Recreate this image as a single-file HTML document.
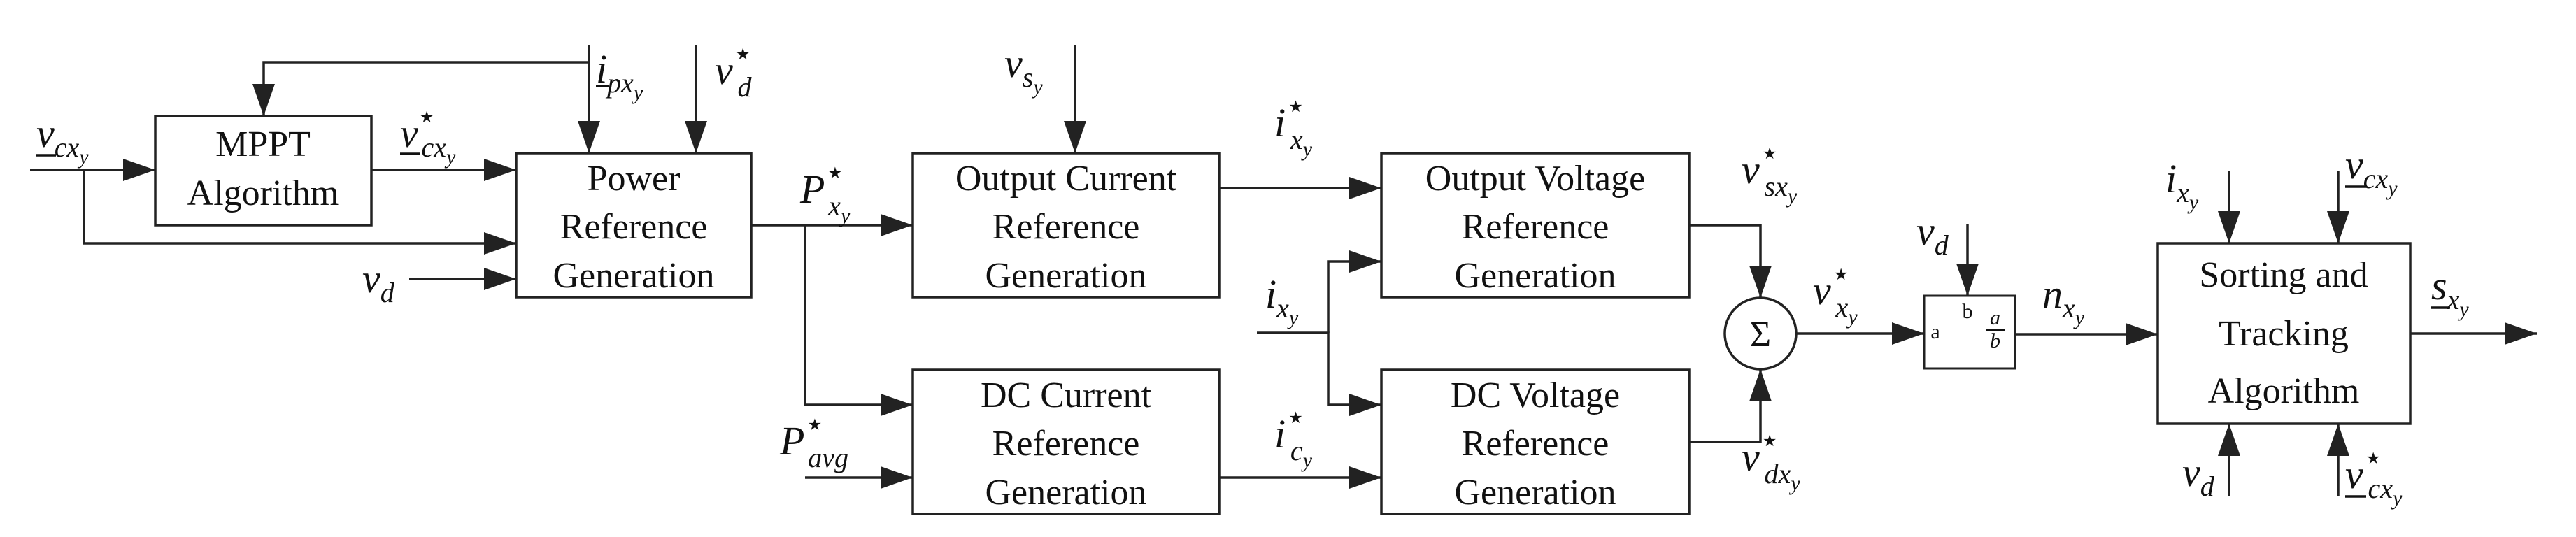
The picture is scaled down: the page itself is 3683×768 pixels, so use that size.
<!DOCTYPE html>
<html><head><meta charset="utf-8"><style>
html,body{margin:0;padding:0;background:#fff;}
svg{display:block;}
.b{font-family:"Liberation Serif","DejaVu Serif",serif;font-size:52px;fill:#111;}
.m{font-family:"Liberation Serif","DejaVu Serif",serif;font-style:italic;font-size:58px;fill:#111;}
.s{font-size:40px;}
.ss{font-size:30px;}
.st{font-style:normal;font-size:46px;}
</style></head><body>
<svg width="3683" height="768" viewBox="0 0 3683 768" xmlns="http://www.w3.org/2000/svg" font-family="Liberation Serif, DejaVu Serif, serif">
<defs>
<marker id="a" markerUnits="userSpaceOnUse" markerWidth="46" markerHeight="32" refX="46" refY="16" orient="auto">
<path d="M0,0 L46,16 L0,32 Z" fill="#222"/>
</marker>
</defs>
<g fill="none" stroke="#222" stroke-width="3.5">
<rect x="222" y="166" width="309" height="156"/>
<rect x="738" y="219" width="336" height="206"/>
<rect x="1305" y="219" width="438" height="206"/>
<rect x="1305" y="529" width="438" height="206"/>
<rect x="1975" y="219" width="440" height="206"/>
<rect x="1975" y="529" width="440" height="206"/>
<rect x="2751" y="423" width="130" height="104" stroke-width="3"/>
<rect x="3085" y="348" width="361" height="258"/>
<circle cx="2517" cy="477" r="51"/>
</g>
<g fill="none" stroke="#222" stroke-width="3.5" marker-end="url(#a)">
<path d="M43 243 H222"/>
<path d="M120 243 V348 H738"/>
<path d="M531 243 H738"/>
<path d="M585 399 H738"/>
<path d="M842 89 H377 V166"/>
<path d="M842 64 V219"/>
<path d="M995 64 V219"/>
<path d="M1074 322 H1305"/>
<path d="M1151 322 V579 H1305"/>
<path d="M1151 683 H1305"/>
<path d="M1537 64 V219"/>
<path d="M1743 269 H1975"/>
<path d="M1899 476 V374 H1975"/>
<path d="M1797 476 H1899 V579 H1975"/>
<path d="M1743 683 H1975"/>
<path d="M2415 322 H2517 V426"/>
<path d="M2415 632 H2517 V528"/>
<path d="M2568 477 H2751"/>
<path d="M2813 321 V423"/>
<path d="M2881 478 H3085"/>
<path d="M3187 245 V348"/>
<path d="M3343 245 V348"/>
<path d="M3187 710 V606"/>
<path d="M3343 710 V606"/>
<path d="M3446 477 H3627"/>
</g>
<g class="b" text-anchor="middle">
<text x="376" y="223">MPPT</text>
<text x="376" y="293">Algorithm</text>
<text x="906" y="272">Power</text>
<text x="906" y="341">Reference</text>
<text x="906" y="411">Generation</text>
<text x="1524" y="272">Output Current</text>
<text x="1524" y="341">Reference</text>
<text x="1524" y="411">Generation</text>
<text x="1524" y="582">DC Current</text>
<text x="1524" y="651">Reference</text>
<text x="1524" y="721">Generation</text>
<text x="2195" y="272">Output Voltage</text>
<text x="2195" y="341">Reference</text>
<text x="2195" y="411">Generation</text>
<text x="2195" y="582">DC Voltage</text>
<text x="2195" y="651">Reference</text>
<text x="2195" y="721">Generation</text>
<text x="3265" y="410">Sorting and</text>
<text x="3265" y="494">Tracking</text>
<text x="3265" y="576">Algorithm</text>
<text x="2517" y="495" style="font-size:52px">Σ</text>
<text x="2767" y="484" style="font-size:30px">a</text>
<text x="2813" y="455" style="font-size:30px">b</text>
</g>
<g fill="#111">
<text class="m" x="2845" y="464" style="font-size:30px">a</text>
<rect x="2840" y="470" width="26" height="3"/>
<text class="m" x="2845" y="497" style="font-size:30px">b</text>
</g>
<g stroke="#111" stroke-width="3.5">
<line x1="52" y1="222" x2="80" y2="222"/>
<line x1="572" y1="220" x2="600" y2="220"/>
<line x1="852" y1="123" x2="870" y2="123"/>
<line x1="3353" y1="267" x2="3383" y2="267"/>
<line x1="3353" y1="710" x2="3383" y2="710"/>
<line x1="3476" y1="440" x2="3503" y2="440"/>
</g>
<g class="m">
<text x="52" y="210">v<tspan class="s" dy="14">cx</tspan><tspan class="ss" dy="10">y</tspan></text>
<text x="572" y="210">v<tspan class="st" dx="-2" dy="-28">⋆</tspan><tspan class="s" dx="-22" dy="42">cx</tspan><tspan class="ss" dy="10">y</tspan></text>
<text x="852" y="118">i<tspan class="s" dy="14">px</tspan><tspan class="ss" dy="10">y</tspan></text>
<text x="1022" y="120">v<tspan class="st" dy="-28">⋆</tspan><tspan class="s" dx="-22" dy="46">d</tspan></text>
<text x="518" y="418">v<tspan class="s" dy="14">d</tspan></text>
<text x="1144" y="290">P<tspan class="st" dy="-28">⋆</tspan><tspan class="s" dx="-24" dy="46">x</tspan><tspan class="ss" dy="10">y</tspan></text>
<text x="1115" y="650">P<tspan class="st" dy="-28">⋆</tspan><tspan class="s" dx="-24" dy="46">avg</tspan></text>
<text x="1436" y="110">v<tspan class="s" dy="14">s</tspan><tspan class="ss" dy="10">y</tspan></text>
<text x="1822" y="195">i<tspan class="st" dy="-28">⋆</tspan><tspan class="s" dx="-22" dy="46">x</tspan><tspan class="ss" dy="10">y</tspan></text>
<text x="1809" y="440">i<tspan class="s" dy="14">x</tspan><tspan class="ss" dy="10">y</tspan></text>
<text x="1822" y="640">i<tspan class="st" dy="-28">⋆</tspan><tspan class="s" dx="-22" dy="46">c</tspan><tspan class="ss" dy="10">y</tspan></text>
<text x="2490" y="262">v<tspan class="st" dy="-28">⋆</tspan><tspan class="s" dx="-22" dy="46">sx</tspan><tspan class="ss" dy="10">y</tspan></text>
<text x="2490" y="673">v<tspan class="st" dy="-28">⋆</tspan><tspan class="s" dx="-22" dy="46">dx</tspan><tspan class="ss" dy="10">y</tspan></text>
<text x="2592" y="435">v<tspan class="st" dy="-28">⋆</tspan><tspan class="s" dx="-22" dy="46">x</tspan><tspan class="ss" dy="10">y</tspan></text>
<text x="2740" y="350">v<tspan class="s" dy="14">d</tspan></text>
<text x="2920" y="440">n<tspan class="s" dy="14">x</tspan><tspan class="ss" dy="10">y</tspan></text>
<text x="3096" y="275">i<tspan class="s" dy="14">x</tspan><tspan class="ss" dy="10">y</tspan></text>
<text x="3353" y="255">v<tspan class="s" dy="14">cx</tspan><tspan class="ss" dy="10">y</tspan></text>
<text x="3120" y="695">v<tspan class="s" dy="14">d</tspan></text>
<text x="3353" y="698">v<tspan class="st" dy="-28">⋆</tspan><tspan class="s" dx="-22" dy="42">cx</tspan><tspan class="ss" dy="10">y</tspan></text>
<text x="3476" y="428">s<tspan class="s" dy="14">x</tspan><tspan class="ss" dy="10">y</tspan></text>
</g>
</svg>
</body></html>
